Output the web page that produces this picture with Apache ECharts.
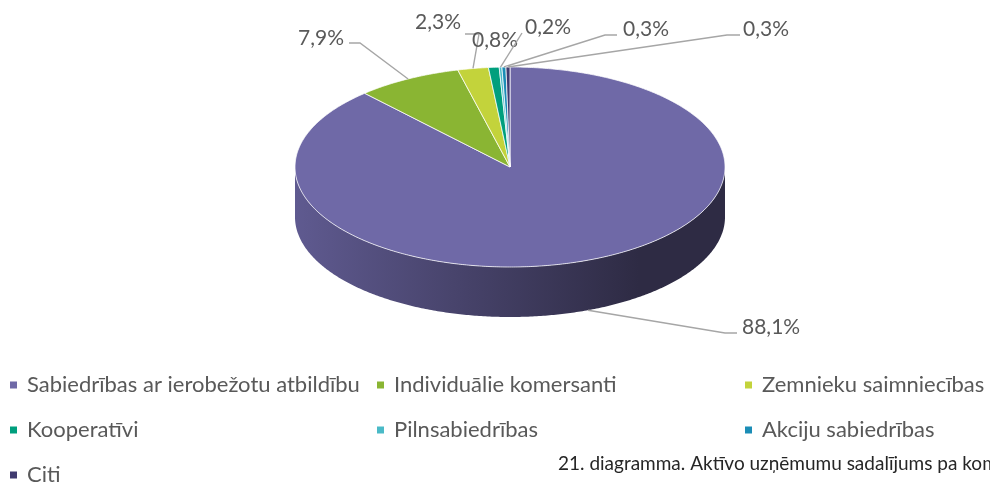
<!DOCTYPE html>
<html>
<head>
<meta charset="utf-8">
<script src="https://cdn.jsdelivr.net/npm/echarts@6/dist/echarts.min.js"></script>
<style>
  html, body { margin: 0; padding: 0; background: #fff; }
  #chart { width: 990px; height: 482px; }
</style>
</head>
<body>
<div id="chart"></div>
<script>
var categories = ["Sabiedrības ar ierobežotu atbildību", "Individuālie komersanti", "Zemnieku saimniecības",
  "Kooperatīvi", "Pilnsabiedrības", "Akciju sabiedrības", "Citi"];
var shares = [88.1, 7.9, 2.3, 0.8, 0.2, 0.3, 0.3];
var colors = ["#6F69A7", "#8AB533", "#C3D33B", "#009F7D", "#4ABAC7", "#1B8DB6", "#403A6F"];
var caption = "21. diagramma. Aktīvo uzņēmumu sadalījums pa komercdarbības formām";

// pie layout (top face ellipse + wall height)
var pie = { cx: 510, cy: 167, rx: 215, ry: 100, depth: 50 };
// where each data label sits and how its leader line bends (knee -> tail)
var labelLayout = [
  { x: 742, y: 327, align: "left", knee: [725, 333], tail: [737, 333] },
  { x: 344, y: 38, align: "right", knee: [360, 43], tail: [349, 43] },
  { x: 461, y: 22, align: "right", knee: [479, 34], tail: [465, 34] },
  { x: 472, y: 40, align: "left", knee: null },
  { x: 525, y: 27, align: "left", knee: [522, 33], tail: null },
  { x: 623, y: 29, align: "left", knee: [605, 35], tail: [617, 35] },
  { x: 743, y: 29, align: "left", knee: [727, 35], tail: [740, 35] }
];
// legend columns, excel fills rows of three
var legendCols = [[0, 3, 6], [1, 4], [2, 5]];
var legendLeft = [10, 377, 745];

var total = shares.reduce(function (s, v) { return s + v; }, 0);
var cum = [0];
shares.forEach(function (v, i) { cum.push(cum[i] + v); });

function fmt(v) {
  return v.toFixed(1).replace(".", ",") + "%";
}

function darken(hex, f) {
  var c = echarts.color.parse(hex);
  return "rgb(" + Math.round(c[0] * f) + "," + Math.round(c[1] * f) + "," + Math.round(c[2] * f) + ")";
}

function pt(a, dy) {
  return [pie.cx + pie.rx * Math.sin(a), pie.cy - pie.ry * Math.cos(a) + dy];
}

function arcPoints(a0, a1, dy) {
  var n = Math.max(2, Math.ceil(Math.abs(a1 - a0) / 0.01));
  var pts = [];
  for (var k = 0; k <= n; k++) {
    pts.push(pt(a0 + (a1 - a0) * k / n, dy));
  }
  return pts;
}

function renderSlice(i) {
  return function (params, api) {
    var start = cum[i] / total * Math.PI * 2;
    var end = cum[i + 1] / total * Math.PI * 2;
    var color = colors[i];
    var children = [];

    // front wall, only the half that faces the viewer
    var a = Math.max(start, Math.PI / 2);
    var b = Math.min(end, Math.PI * 1.5);
    if (b > a) {
      children.push({
        type: "polygon",
        shape: { points: arcPoints(a, b, 0).concat(arcPoints(b, a, pie.depth)) },
        style: {
          fill: new echarts.graphic.LinearGradient(pie.cx - pie.rx, 0, pie.cx + pie.rx * 0.6, 0, [
            { offset: 0, color: darken(color, 0.86) },
            { offset: 0.5, color: darken(color, 0.63) },
            { offset: 1, color: darken(color, 0.41) }
          ], true)
        }
      });
    }

    // top face
    children.push({
      type: "polygon",
      shape: { points: [[pie.cx, pie.cy]].concat(arcPoints(start, end, 0)) },
      style: { fill: color, stroke: "rgba(255,255,255,0.75)", lineWidth: 1 }
    });

    // label + leader line
    var lay = labelLayout[i];
    var mid = (start + end) / 2;
    var front = mid > Math.PI / 2 && mid < Math.PI * 1.5;
    var anchor = pt(mid, front ? pie.depth : 0);
    if (lay.knee) {
      var line = [anchor, lay.knee];
      if (lay.tail) line.push(lay.tail);
      children.push({
        type: "polyline",
        shape: { points: line },
        style: { stroke: "#A6A6A6", lineWidth: 1.4, fill: null }
      });
    }
    children.push({
      type: "text",
      style: {
        text: fmt(shares[i]),
        x: lay.x,
        y: lay.y,
        align: lay.align,
        verticalAlign: "middle",
        fill: "#595959",
        fontFamily: "Lato",
        fontSize: 21
      }
    });

    return { type: "group", children: children };
  };
}

var myChart = echarts.init(document.getElementById("chart"));

var option = {
  animation: false,
  color: colors,
  legend: legendCols.map(function (col, j) {
    return {
      orient: "vertical",
      left: legendLeft[j],
      top: 374,
      height: 140,
      padding: 0,
      itemGap: 23,
      itemWidth: 7,
      itemHeight: 7,
      icon: "rect",
      selectedMode: false,
      data: col.map(function (k) { return categories[k]; }),
      textStyle: {
        fontFamily: "Lato",
        fontSize: 22,
        lineHeight: 22,
        color: "#595959",
        padding: [0, 0, 0, 5]
      }
    };
  }),
  graphic: [
    {
      type: "text",
      left: 558,
      top: 454,
      style: {
        text: caption,
        fill: "#262626",
        fontFamily: "Lato",
        fontSize: 19
      }
    }
  ],
  series: categories.map(function (name, i) {
    return {
      name: name,
      type: "custom",
      coordinateSystem: "none",
      silent: true,
      itemStyle: { color: colors[i] },
      renderItem: renderSlice(i),
      data: [[shares[i]]]
    };
  })
};

myChart.setOption(option);
</script>
</body>
</html>
